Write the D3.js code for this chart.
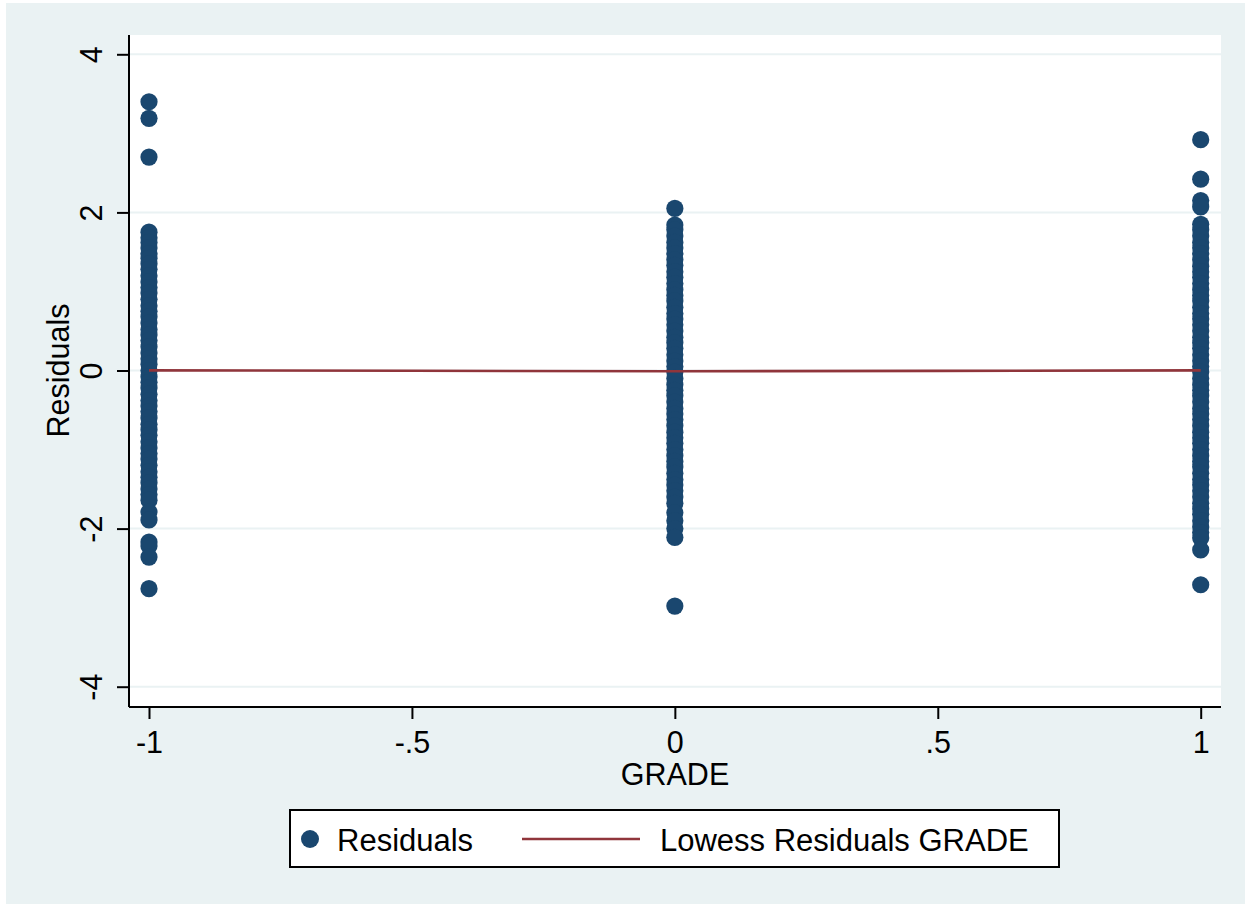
<!DOCTYPE html>
<html>
<head>
<meta charset="utf-8">
<script src="https://cdn.jsdelivr.net/npm/d3@7"></script>
<style>
  html, body { margin: 0; padding: 0; background: #ffffff; }
  svg { display: block; }
  text { font-family: "Liberation Sans", Arial, Helvetica, sans-serif; fill: #000; }
</style>
</head>
<body>
<svg id="chart" width="1251" height="907"></svg>
<script>
// ---- Data ----
const gradeLevels = [-1, 0, 1];

const residualsGradeMinus1 = [
  3.40, 3.19, 2.70,
  1.75, 1.68, 1.62, 1.55, 1.48, 1.42, 1.35, 1.28, 1.20, 1.12, 1.05, 0.98,
  0.90, 0.82, 0.75, 0.68, 0.60, 0.52, 0.45, 0.38, 0.30, 0.22, 0.15, 0.08,
  0.00, -0.08, -0.15, -0.22, -0.30, -0.38, -0.45, -0.52, -0.60, -0.68,
  -0.75, -0.82, -0.90, -0.98, -1.05, -1.12, -1.20, -1.28, -1.35, -1.42,
  -1.50, -1.57, -1.64,
  -1.79, -1.89, -2.17, -2.22, -2.36, -2.76
];

const residualsGrade0 = [
  2.05,
  1.84, 1.78, 1.70, 1.62, 1.55, 1.48, 1.40, 1.33, 1.25, 1.18, 1.10, 1.02,
  0.95, 0.88, 0.80, 0.72, 0.65, 0.58, 0.50, 0.42, 0.35, 0.28, 0.20, 0.12,
  0.05, -0.02, -0.10, -0.18, -0.25, -0.32, -0.40, -0.48, -0.55, -0.62,
  -0.70, -0.78, -0.85, -0.92, -1.00, -1.08, -1.15, -1.22, -1.30, -1.38,
  -1.45, -1.52, -1.60, -1.68,
  -1.80, -1.90, -2.00, -2.11,
  -2.98
];

const residualsGrade1 = [
  2.92, 2.42, 2.15, 2.07,
  1.85, 1.78, 1.70, 1.62, 1.55, 1.48, 1.40, 1.32, 1.25, 1.18, 1.10, 1.02,
  0.95, 0.88, 0.80, 0.72, 0.65, 0.58, 0.50, 0.42, 0.35, 0.28, 0.20, 0.12,
  0.05, -0.02, -0.10, -0.18, -0.25, -0.32, -0.40, -0.48, -0.55, -0.62,
  -0.70, -0.78, -0.85, -0.92, -1.00, -1.08, -1.15, -1.22, -1.30, -1.38,
  -1.45, -1.52, -1.60, -1.68, -1.75, -1.82, -1.90, -1.98, -2.05, -2.12,
  -2.27, -2.71
];

const lowessX = [-1, -0.5, 0, 0.5, 1];
const lowessY = [0.002, -0.004, -0.010, -0.005, 0.001];

const xTickValues = [-1, -0.5, 0, 0.5, 1];
const xTickLabels = ["-1", "-.5", "0", ".5", "1"];
const yTickValues = [-4, -2, 0, 2, 4];
const yTickLabels = ["-4", "-2", "0", "2", "4"];

const xTitle = "GRADE";
const yTitle = "Residuals";
const legendLabels = ["Residuals", "Lowess Residuals GRADE"];

// ---- Styles ----
const bgColor = "#EAF2F3";
const dotColor = "#1A476F";
const lineColor = "#90353B";
const gridColor = "#EAF2F3";
const fontSize = 30.5;
const legendFontSize = 31;

// ---- Layout ----
const svg = d3.select("#chart");
const W = 1251, H = 907;
const plot = { left: 129, right: 1221, top: 35, bottom: 707 };

svg.append("rect").attr("x", 6).attr("y", 3).attr("width", W - 12).attr("height", H - 6)
  .attr("fill", bgColor);
svg.append("rect").attr("x", plot.left).attr("y", plot.top)
  .attr("width", plot.right - plot.left).attr("height", plot.bottom - plot.top)
  .attr("fill", "#ffffff");

const x = d3.scaleLinear().domain([-1, 1]).range([149, 1200.7]);
const y = d3.scaleLinear().domain([-4, 4]).range([686.7, 54.3]);

// gridlines
svg.append("g").selectAll("line").data(yTickValues).join("line")
  .attr("x1", plot.left).attr("x2", plot.right)
  .attr("y1", d => y(d)).attr("y2", d => y(d))
  .attr("stroke", gridColor).attr("stroke-width", 2);

// points
const points = [];
[residualsGradeMinus1, residualsGrade0, residualsGrade1].forEach((arr, i) => {
  arr.forEach(v => points.push({ g: gradeLevels[i], r: v }));
});
svg.append("g").selectAll("circle").data(points).join("circle")
  .attr("cx", d => x(d.g)).attr("cy", d => y(d.r)).attr("r", 8.6)
  .attr("fill", dotColor);

// lowess line
const lineGen = d3.line().x(d => x(d[0])).y(d => y(d[1]));
svg.append("path").datum(lowessX.map((v, i) => [v, lowessY[i]]))
  .attr("d", lineGen).attr("fill", "none")
  .attr("stroke", lineColor).attr("stroke-width", 2.6);

// axes
const xAxis = d3.axisBottom(x).tickValues(xTickValues)
  .tickFormat((d, i) => xTickLabels[i]).tickSizeInner(12).tickSizeOuter(0).tickPadding(6);
const gx = svg.append("g").attr("transform", `translate(0,${plot.bottom})`).call(xAxis);
gx.select(".domain").attr("d", `M${plot.left},0H${plot.right}`).attr("stroke", "#000").attr("stroke-width", 2);
gx.selectAll(".tick line").attr("stroke", "#000").attr("stroke-width", 2);
gx.selectAll(".tick text").attr("font-size", fontSize).attr("font-family", "Liberation Sans, Arial, sans-serif")
  .attr("fill", "#000").attr("y", 46).attr("dy", null);

const yAxis = d3.axisLeft(y).tickValues(yTickValues)
  .tickFormat((d, i) => yTickLabels[i]).tickSizeInner(12).tickSizeOuter(0);
const gy = svg.append("g").attr("transform", `translate(${plot.left},0)`).call(yAxis);
gy.select(".domain").attr("d", `M0,${plot.top}V${plot.bottom}`).attr("stroke", "#000").attr("stroke-width", 2);
gy.selectAll(".tick line").attr("stroke", "#000").attr("stroke-width", 2);
gy.selectAll(".tick text")
  .attr("font-size", fontSize).attr("font-family", "Liberation Sans, Arial, sans-serif").attr("fill", "#000")
  .attr("x", null).attr("dy", null)
  .attr("text-anchor", "middle")
  .attr("transform", "translate(-27,0) rotate(-90)");

// axis titles
svg.append("text").attr("x", 675).attr("y", 785).attr("text-anchor", "middle")
  .attr("font-size", fontSize).text(xTitle);
svg.append("text").attr("transform", `translate(69,${y(0)}) rotate(-90)`)
  .attr("text-anchor", "middle").attr("font-size", fontSize).text(yTitle);

// legend
const lg = svg.append("g");
lg.append("rect").attr("x", 290).attr("y", 810).attr("width", 769).attr("height", 57)
  .attr("fill", "#fff").attr("stroke", "#000").attr("stroke-width", 2);
lg.append("circle").attr("cx", 310).attr("cy", 839).attr("r", 9).attr("fill", dotColor);
lg.append("text").attr("x", 337).attr("y", 851).attr("font-size", legendFontSize).text(legendLabels[0]);
lg.append("line").attr("x1", 522).attr("x2", 640).attr("y1", 839).attr("y2", 839)
  .attr("stroke", lineColor).attr("stroke-width", 2.6);
lg.append("text").attr("x", 660).attr("y", 851).attr("font-size", legendFontSize).text(legendLabels[1]);
</script>
</body>
</html>
